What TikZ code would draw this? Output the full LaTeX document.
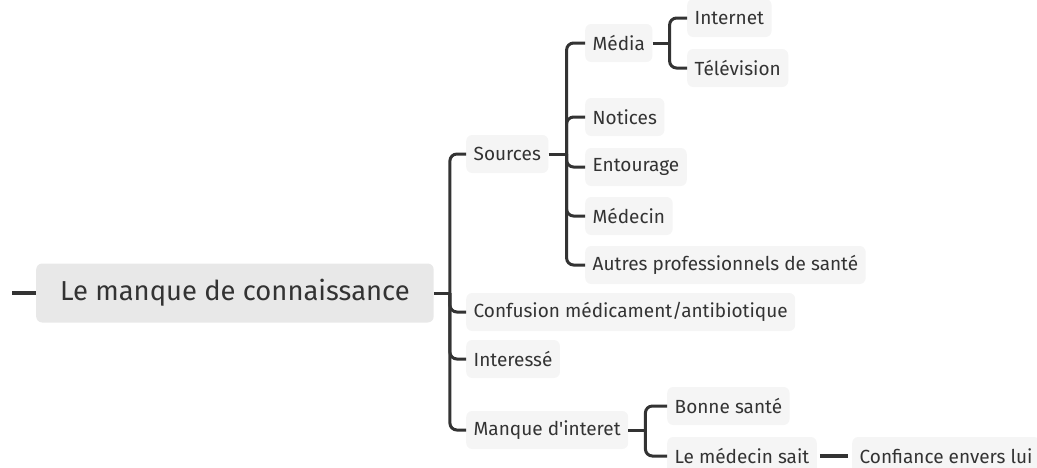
\documentclass[tikz,border=0pt]{standalone}
\usepackage{fontspec}
\setmainfont{Fira Sans}
\definecolor{linkgray}{HTML}{333333}
\definecolor{rootfill}{HTML}{E8E8E8}
\definecolor{boxfill}{HTML}{F5F5F5}
\begin{document}
\begin{tikzpicture}[x=1pt,y=1pt,
  link/.style={draw=linkgray,line width=3pt,rounded corners=7pt},
  rootbox/.style={fill=rootfill,rounded corners=6pt,text=linkgray,anchor=west,
    font=\fontsize{27.4}{32}\selectfont,minimum height=59pt,inner xsep=24pt},
  topic/.style={fill=boxfill,rounded corners=6pt,text=linkgray,anchor=west,
    font=\fontsize{19}{22}\selectfont,minimum height=38pt,inner xsep=7.5pt}]
\useasboundingbox (0,0) rectangle (1037,-467);
\node[rootbox] (root) at (36,-293) {Le manque de connaissance};
\node[topic] (sources) at (466,-154) {Sources};
\node[topic] (confusion) at (466,-312) {Confusion médicament/antibiotique};
\node[topic] (interesse) at (466,-359) {Interessé};
\node[topic] (manque) at (466,-430) {Manque d\textquotesingle interet};
\node[topic] (media) at (585,-43) {Média};
\node[topic] (internet) at (687,-18) {Internet};
\node[topic] (tele) at (687,-68) {Télévision};
\node[topic] (notices) at (585,-117) {Notices};
\node[topic] (entourage) at (585,-167) {Entourage};
\node[topic] (medecin) at (585,-216) {Médecin};
\node[topic] (autres) at (585,-265) {Autres professionnels de santé};
\node[topic] (bonne) at (667,-406) {Bonne santé};
\node[topic] (medsait) at (667,-456) {Le médecin sait};
\node[topic] (confiance) at (852,-456) {Confiance envers lui};
\coordinate (stub) at (12,-293);
\coordinate (rj) at ([xshift=16pt]root.east);
\coordinate (sj) at ([xshift=18pt]sources.east);
\coordinate (mj) at ([xshift=17pt]media.east);
\coordinate (qj) at ([xshift=17pt]manque.east);
% main branches
\draw[link,line width=4.5pt] (stub) -- (root.west);
\draw[link] (root.east) -- (rj);
\foreach \c in {sources,confusion,interesse,manque}
  \draw[link] (rj) |- (\c.west);
% sources
\draw[link] (sources.east) -- (sj);
\foreach \c in {media,notices,entourage,medecin,autres}
  \draw[link] (sj) |- (\c.west);
\draw[link] (media.east) -- (mj);
\foreach \c in {internet,tele}
  \draw[link] (mj) |- (\c.west);
% manque d'interet
\draw[link] (manque.east) -- (qj);
\foreach \c in {bonne,medsait}
  \draw[link] (qj) |- (\c.west);
\draw[link,line width=3.5pt] ([xshift=3pt]medsait.east) -- ([xshift=-4pt]confiance.west);
\end{tikzpicture}
\end{document}
